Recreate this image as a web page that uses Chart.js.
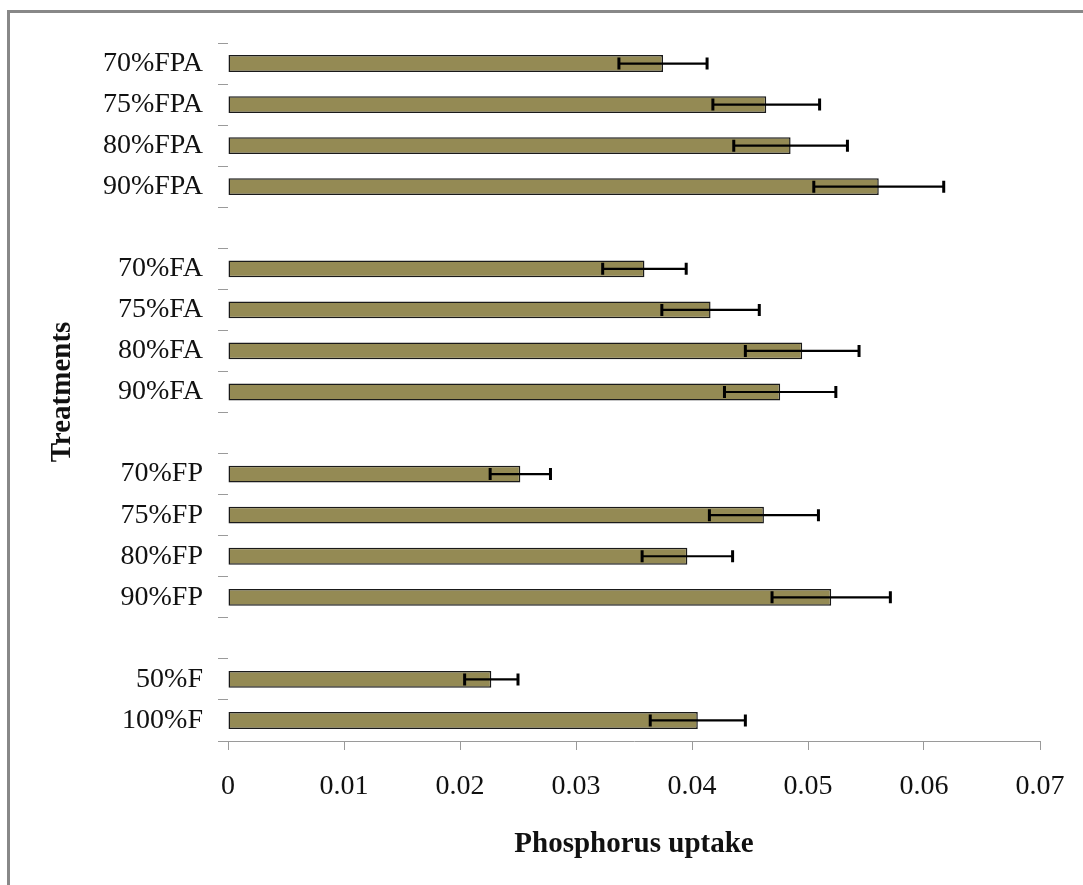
<!DOCTYPE html>
<html>
<head>
<meta charset="utf-8">
<title>Phosphorus uptake</title>
<script src="https://cdn.jsdelivr.net/npm/chart.js@4.4.1/dist/chart.umd.min.js"></script>
<style>
    html, body { margin: 0; padding: 0; background: #fff; overflow: hidden; }
    #moldura {
        position: absolute; left: 7px; top: 10px; width: 1200px; height: 1000px;
        border-left: 3px solid #888; border-top: 3px solid #888;
    }
    #grafico { position: absolute; left: 0; top: 0; }
</style>
</head>
<body>
<div id="moldura"></div>
<canvas id="grafico" width="1083" height="885"></canvas>
<script>
// tratamentos de cima para baixo; '' = espaço entre os grupos
const tratamentos = ['70%FPA', '75%FPA', '80%FPA', '90%FPA', '',
                     '70%FA', '75%FA', '80%FA', '90%FA', '',
                     '70%FP', '75%FP', '80%FP', '90%FP', '',
                     '50%F', '100%F'];
const absorcao = [0.0375, 0.0464, 0.0485, 0.0561, null,
                  0.0359, 0.0416, 0.0495, 0.0476, null,
                  0.0252, 0.0462, 0.0396, 0.0520, null,
                  0.0227, 0.0405];
const erroPadrao = [0.0038, 0.0046, 0.0049, 0.0056, null,
                    0.0036, 0.0042, 0.0049, 0.0048, null,
                    0.0026, 0.0047, 0.0039, 0.0051, null,
                    0.0023, 0.0041];
const rotulosX = ['0', '0.01', '0.02', '0.03', '0.04', '0.05', '0.06', '0.07'];

const fonte = 'Liberation Serif, Times New Roman, serif';
const cinza = '#9a9a9a';

// desenha as barras de erro horizontais (± erro) sobre cada barra
const barrasDeErro = {
    id: 'barrasDeErro',
    afterDatasetsDraw(chart) {
        const ctx = chart.ctx;
        const escalaX = chart.scales.x;
        const barras = chart.getDatasetMeta(0).data;
        ctx.save();
        ctx.strokeStyle = '#000';
        barras.forEach((barra, i) => {
            if (absorcao[i] == null) return;
            const y = barra.y;
            const x1 = escalaX.getPixelForValue(absorcao[i] - erroPadrao[i]);
            const x2 = escalaX.getPixelForValue(absorcao[i] + erroPadrao[i]);
            ctx.lineWidth = 2.2;
            ctx.beginPath();
            ctx.moveTo(x1, y);
            ctx.lineTo(x2, y);
            ctx.stroke();
            ctx.lineWidth = 3;
            ctx.beginPath();
            ctx.moveTo(x1, y - 6); ctx.lineTo(x1, y + 6);
            ctx.moveTo(x2, y - 6); ctx.lineTo(x2, y + 6);
            ctx.stroke();
        });
        ctx.restore();
    }
};

new Chart(document.getElementById('grafico'), {
    type: 'bar',
    data: {
        labels: tratamentos,
        datasets: [{
            data: absorcao,
            backgroundColor: '#948a54',
            borderColor: '#1a1a1a',
            borderWidth: 1.5,
            borderSkipped: false,
            categoryPercentage: 1,
            barPercentage: 0.41
        }]
    },
    options: {
        indexAxis: 'y',
        responsive: false,
        animation: false,
        layout: { padding: { top: 43, right: 43, left: 0, bottom: 0 } },
        plugins: {
            legend: { display: false },
            tooltip: { enabled: false }
        },
        scales: {
            x: {
                min: 0,
                max: 0.07,
                afterFit: (s) => { s.height = 144; s.paddingRight = 0; s.paddingLeft = 0; },
                ticks: {
                    stepSize: 0.01,
                    padding: 20,
                    color: '#111',
                    font: { family: fonte, size: 28 },
                    callback: (v, i) => rotulosX[i]
                },
                grid: { drawOnChartArea: false, tickLength: 9, color: cinza },
                border: { display: true, color: cinza, width: 1 },
                title: {
                    display: true,
                    text: 'Phosphorus uptake',
                    color: '#111',
                    font: { family: fonte, size: 29, weight: 'bold' },
                    padding: { top: 0, bottom: 23 }
                }
            },
            y: {
                afterFit: (s) => { s.width = 228; },
                ticks: {
                    autoSkip: false,
                    padding: 15,
                    color: '#111',
                    font: { family: fonte, size: 28 }
                },
                grid: { drawOnChartArea: false, offset: true, tickLength: 10, color: cinza },
                border: { display: false },
                title: {
                    display: true,
                    text: 'Treatments',
                    color: '#111',
                    font: { family: fonte, size: 29, weight: 'bold' },
                    padding: { top: 45, bottom: 0 }
                }
            }
        }
    },
    plugins: [barrasDeErro]
});
</script>
</body>
</html>
